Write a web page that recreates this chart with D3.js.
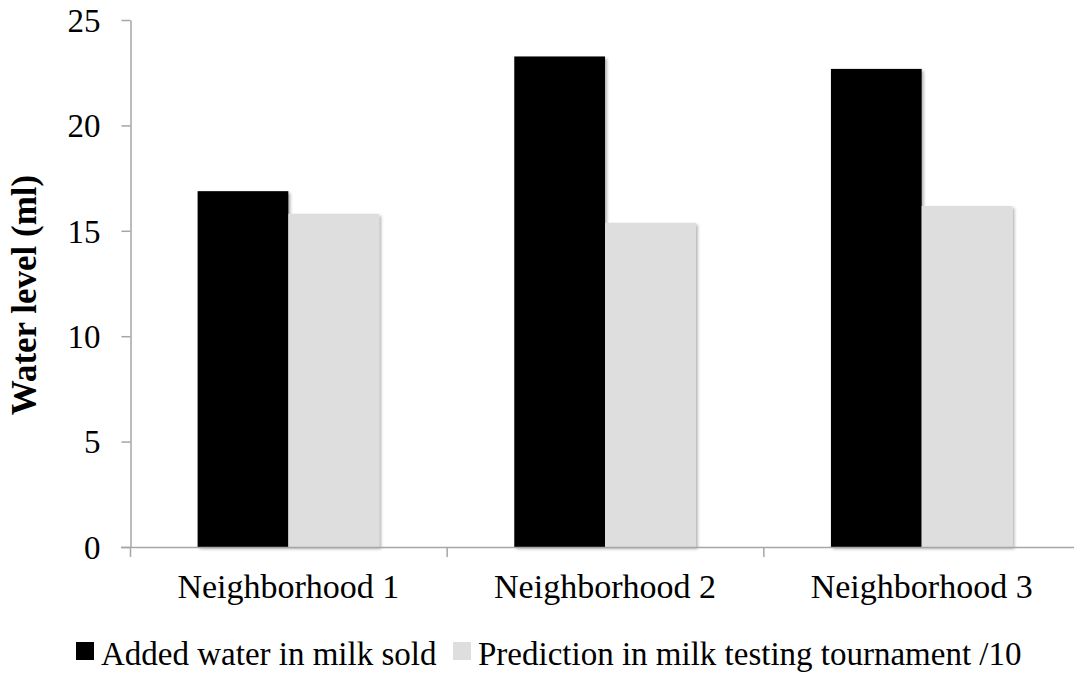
<!DOCTYPE html>
<html lang="en">
<head>
<meta charset="UTF-8">
<title>Water level</title>
<style>
  body { margin: 0; background: #fff; }
  text { font-family: "Liberation Serif", "Times New Roman", serif; fill: #000; }
  .axis path, .axis line { stroke: #a6a6a6; stroke-width: 1.5px; }
</style>
</head>
<body>
<svg id="chart" width="1074" height="675"></svg>
<script src="https://d3js.org/d3.v7.min.js"></script>
<script>
// data
var neighborhoods = ["Neighborhood 1", "Neighborhood 2", "Neighborhood 3"];
var seriesNames = ["Added water in milk sold", "Prediction in milk testing tournament /10"];
var addedWater = [16.88, 23.27, 22.68];
var prediction = [15.81, 15.38, 16.18];
var yTicks = [0, 5, 10, 15, 20, 25];
var colors = ["#000000", "#dedede"];

var svg = d3.select("#chart");
var margin = {left: 130, top: 20, right: 1080, bottom: 547};

var x = d3.scaleBand().domain(neighborhoods).range([margin.left, margin.right]);
var inner = d3.scaleBand().domain(seriesNames).range([0, x.bandwidth() * 0.573]);
var y = d3.scaleLinear().domain([0, 25]).range([margin.bottom, margin.top]);

// soft drop shadow like the office chart
var defs = svg.append("defs");
defs.append("filter").attr("id", "shadow")
    .attr("x", "-10%").attr("y", "-10%").attr("width", "130%").attr("height", "130%")
  .append("feDropShadow")
    .attr("dx", 2).attr("dy", 2).attr("stdDeviation", 1.5)
    .attr("flood-color", "#000").attr("flood-opacity", 0.3);

// bars
var rows = neighborhoods.map(function(n, i) {
  return [{name: n, s: 0, v: addedWater[i]}, {name: n, s: 1, v: prediction[i]}];
});
var groupOffset = (x.bandwidth() - inner.range()[1]) / 2;

svg.append("g").selectAll("g")
  .data(rows)
  .enter().append("g")
    .attr("transform", function(d) { return "translate(" + (x(d[0].name) + groupOffset) + ",0)"; })
  .selectAll("rect")
  .data(function(d) { return d; })
  .enter().append("rect")
    .attr("x", function(d) { return inner(seriesNames[d.s]); })
    .attr("y", function(d) { return y(d.v); })
    .attr("width", inner.bandwidth())
    .attr("height", function(d) { return y(0) - y(d.v); })
    .attr("fill", function(d) { return colors[d.s]; })
    .attr("filter", "url(#shadow)");

// y axis
var yAxis = svg.append("g")
    .attr("class", "axis")
    .attr("transform", "translate(" + (margin.left + 0.5) + ",0)")
    .call(d3.axisLeft(y).tickValues(yTicks).tickSize(9).tickSizeOuter(0).tickPadding(21));
yAxis.selectAll("text")
    .style("font-size", "33px")
    .attr("dy", "0.34em");

// x axis line with ticks at band edges
var xAxis = svg.append("g").attr("class", "axis");
xAxis.append("line")
    .attr("x1", margin.left - 9).attr("x2", 1074)
    .attr("y1", y(0) + 0.5).attr("y2", y(0) + 0.5);
xAxis.selectAll(".edge")
  .data(neighborhoods)
  .enter().append("line")
    .attr("x1", function(d) { return x(d) + 0.5; })
    .attr("x2", function(d) { return x(d) + 0.5; })
    .attr("y1", y(0)).attr("y2", y(0) + 10);

svg.append("g")
    .attr("transform", "translate(0," + y(0) + ")")
    .call(d3.axisBottom(x).tickSize(0).tickPadding(0))
    .call(function(g) { g.select(".domain").remove(); })
  .selectAll("text")
    .attr("dy", null)
    .attr("y", 51)
    .style("font-size", "34px");

// y title
svg.append("text")
    .attr("transform", "translate(36,295) rotate(-90)")
    .attr("text-anchor", "middle")
    .style("font-size", "35px")
    .style("font-weight", "bold")
    .text("Water level (ml)");

// legend
var legendX = [76, 453];
var legend = svg.append("g").selectAll("g")
  .data(seriesNames)
  .enter().append("g")
    .attr("transform", function(d, i) { return "translate(" + legendX[i] + ",642)"; });
legend.append("rect")
    .attr("width", 18).attr("height", 18)
    .attr("fill", function(d, i) { return colors[i]; });
legend.append("text")
    .attr("x", 25).attr("y", 23)
    .style("font-size", "33px")
    .text(function(d) { return d; });
</script>
</body>
</html>
